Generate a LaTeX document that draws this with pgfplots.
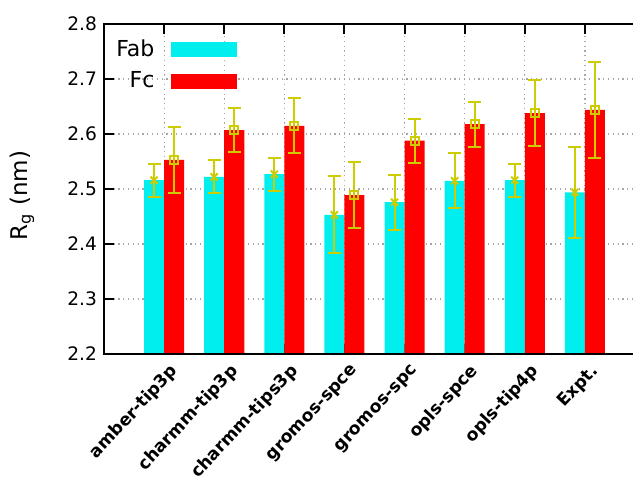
\documentclass[border=0pt]{standalone}
\usepackage{pgfplots}
\pgfplotsset{compat=1.18}
\usepackage{pgfplotstable}
\usepackage{fontspec}
\setmainfont{DejaVu Sans}
\usetikzlibrary{calc}
\definecolor{fabc}{RGB}{0,238,238}
\definecolor{fcc}{RGB}{255,0,0}
\definecolor{errc}{RGB}{204,204,0}
\pgfplotstableread{
x fab fabe fc fce
0 2.516 0.030 2.553 0.060
1 2.522 0.030 2.607 0.040
2 2.527 0.030 2.615 0.050
3 2.453 0.070 2.489 0.060
4 2.476 0.050 2.588 0.040
5 2.515 0.050 2.618 0.041
6 2.516 0.030 2.638 0.060
7 2.494 0.083 2.644 0.087
}\data
\begin{document}
\begin{tikzpicture}
\begin{axis}[
  width=264.5pt, height=165pt, scale only axis,
  xmin=-1, xmax=7.8, ymin=2.2, ymax=2.8,
  ytick={2.2,2.3,...,2.8},
  xtick={0,1,2,3,4,5,6,7},
  xticklabels={amber-tip3p,charmm-tip3p,charmm-tips3p,gromos-spce,gromos-spc,opls-spce,opls-tip4p,Expt.},
  xticklabel style={font=\fontsize{8.6}{10}\selectfont\bfseries, xshift=5.5pt, yshift=-7pt, rotate=47, anchor=east, inner sep=0pt},
  yticklabel style={font=\fontsize{9.3}{10}\selectfont},
  /pgf/number format/assume math mode=true,
  /pgf/number format/fixed, /pgf/number format/fixed zerofill, /pgf/number format/precision=1,
  ytick pos=left,
  tick align=inside,
  major tick length=5pt,
  every tick/.style={black, line width=1pt},
  axis line style={draw=none},
  grid=major,
  grid style={gray!70, line width=0.6pt, dash pattern=on 0.6pt off 1.8pt},
  clip mode=individual,
  ylabel={R\textsubscript{g} (nm)},
  ylabel style={font=\fontsize{11.5}{13}\selectfont, at={(axis description cs:-0.155,0.48)}, anchor=center},
  legend style={at={(axis description cs:0.015,0.965)}, anchor=north west, draw=none, fill=none,
    font=\fontsize{11}{13}\selectfont, row sep=2pt, inner sep=0pt},
  legend cell align=right,
  legend plot pos=right,
]
\addplot[ybar, bar width=0.3333, bar shift=0pt, fill=fabc, draw=none,
  legend image code/.code={\path (0pt,0pt); \fill[fabc] (6.5pt,-3.75pt) rectangle (39.5pt,3.75pt);}]
  table[x expr=\thisrow{x}-1/6, y=fab] {\data};
\addlegendentry{Fab}
\addplot[ybar, bar width=0.3333, bar shift=0pt, fill=fcc, draw=none,
  legend image code/.code={\path (0pt,0pt); \fill[fcc] (6.5pt,-3.75pt) rectangle (39.5pt,3.75pt);}]
  table[x expr=\thisrow{x}+1/6, y=fc] {\data};
\addlegendentry{Fc}
\addplot[forget plot, only marks, mark=x, mark size=2.5pt, color=errc, line width=1pt,
  error bars/.cd, y dir=both, y explicit,
  error bar style={line width=1pt, color=errc},
  error mark options={rotate=90, mark size=3.25pt, line width=1pt, color=errc}]
  table[x expr=\thisrow{x}-1/6, y=fab, y error=fabe] {\data};
\addplot[forget plot, only marks, mark=square, mark size=2pt, color=errc, line width=1pt,
  error bars/.cd, y dir=both, y explicit,
  error bar style={line width=1pt, color=errc},
  error mark options={rotate=90, mark size=3.25pt, line width=1pt, color=errc}]
  table[x expr=\thisrow{x}+1/6, y=fc, y error=fce] {\data};
\draw[line width=1pt, line cap=rect] (rel axis cs:0,0) -- (rel axis cs:1,0);
\draw[line width=1pt, line cap=rect] (rel axis cs:0,1) -- (rel axis cs:1,1);
\draw[line width=1pt, line cap=rect] (rel axis cs:0,0) -- (rel axis cs:0,1);
\end{axis}
\pgfresetboundingbox
\useasboundingbox ($(current axis.south west)+(-52pt,-64pt)$) rectangle ($(current axis.north east)+(0pt,12pt)$);
\end{tikzpicture}
\end{document}
